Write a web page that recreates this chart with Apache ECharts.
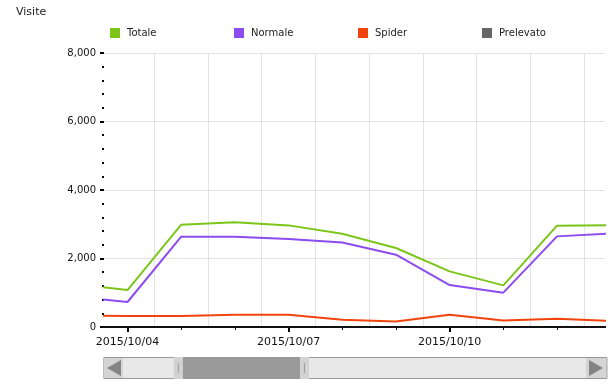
<!DOCTYPE html>
<html><head><meta charset="utf-8">
<script src="https://cdn.jsdelivr.net/npm/echarts@6/dist/echarts.min.js"></script>
<style>html,body{margin:0;padding:0;background:#fff}#c{width:614px;height:386px}</style>
</head><body><div id="c"></div>
<script>
// ---- data ----
const dates = ['2015/10/03','2015/10/04','2015/10/05','2015/10/06','2015/10/07','2015/10/08','2015/10/09','2015/10/10','2015/10/11','2015/10/12','2015/10/13'];
const totale = [1256, 1080, 2987, 3055, 2967, 2720, 2307, 1624, 1215, 2958, 2970];
const normale = [883, 730, 2637, 2637, 2570, 2470, 2111, 1226, 1002, 2646, 2733];
const spider = [342, 321, 321, 359, 359, 215, 164, 359, 193, 242, 177];
const prelevato = [0, 0, 0, 0, 0, 0, 0, 0, 0, 0, 0];
const labelDates = ['2015/10/04','2015/10/07','2015/10/10','2015/10/13'];
const seriesNames = ['Totale','Normale','Spider','Prelevato'];
const axisFull = ['2015/09/28 04:02','2015/11/03 21:50'];
const viewWindow = ['2015/10/03 13:29','2015/10/12 21:27'];

// ---- helpers ----
function t(s){ const m = s.match(/(\d+)\/(\d+)\/(\d+)(?: (\d+):(\d+))?/); return new Date(+m[1], +m[2]-1, +m[3], +(m[4]||0), +(m[5]||0)).getTime(); }
function fmt(v){ const d = new Date(v); const p = n => String(n).padStart(2,'0'); return d.getFullYear()+'/'+p(d.getMonth()+1)+'/'+p(d.getDate()); }
const DAY = 86400000;
const dayTicks = dates.map(t);
const gridTicks = dayTicks.map(v => v + DAY/2);
const labelTicks = labelDates.map(t);
const mk = arr => dates.map((d,i) => [t(d), arr[i]]);
const font = 'DejaVu Sans';
const colors = ['#7cc51a', '#8c4cf0', '#f0440c', '#666666'];

const chart = echarts.init(document.getElementById('c'), null, {renderer:'canvas'});
const option = {
  animation: false,
  title: {text:'Visite', left:16, top:7, padding:0, textStyle:{fontSize:11, fontWeight:'normal', color:'#222', fontFamily:font}},
  legend: seriesNames.map((n,i) => ({
    top:28, left:110 + i*124, itemWidth:10, itemHeight:10, itemGap:0, icon:'rect', padding:0,
    itemStyle:{borderWidth:0},
    textStyle:{fontSize:10, color:'#222', fontFamily:font, padding:[0,0,0,2]},
    data:[{name:n, itemStyle:{color:colors[i]}}]
  })),
  grid: {left:104, right:9, top:53, bottom:59, containLabel:false, outerBoundsMode:'none'},
  xAxis: [
    {type:'value', min:t(axisFull[0]), max:t(axisFull[1]), position:'bottom', scale:true,
     axisLine:{show:true, onZero:false, lineStyle:{color:'#000', width:2}},
     axisTick:{show:true, customValues:dayTicks, length:3, lineStyle:{color:'#000', width:1}},
     axisLabel:{customValues:labelTicks, formatter:v => fmt(v), margin:10, fontSize:11, color:'#111', fontFamily:font, hideOverlap:false, showMinLabel:true, showMaxLabel:true},
     splitLine:{show:false}},
    {type:'value', min:t(viewWindow[0]), max:t(viewWindow[1]), position:'bottom', scale:true,
     axisLine:{show:false}, axisTick:{show:false, customValues:gridTicks}, axisLabel:{show:false, customValues:gridTicks},
     splitLine:{show:true, lineStyle:{color:'#e2e2e2', width:1}}},
    {type:'value', min:t(viewWindow[0]), max:t(viewWindow[1]), position:'bottom', scale:true,
     axisLine:{show:false}, axisTick:{show:true, customValues:labelTicks, length:5, lineStyle:{color:'#000', width:2}},
     axisLabel:{show:false, customValues:labelTicks}, splitLine:{show:false}}
  ],
  yAxis: {type:'value', min:0, max:8000, interval:2000,
    axisLine:{show:false},
    axisTick:{show:true, length:4, lineStyle:{color:'#000', width:2}},
    minorTick:{show:true, splitNumber:5, length:2, lineStyle:{color:'#000', width:2}},
    axisLabel:{fontSize:10, color:'#111', fontFamily:font, margin:8},
    splitLine:{show:true, lineStyle:{color:'#e2e2e2', width:1}}},
  dataZoom: [{
    type:'slider', xAxisIndex:0, filterMode:'none',
    startValue:t(viewWindow[0]), endValue:t(viewWindow[1]),
    left:103, right:7, top:357, height:22,
    showDetail:false, showDataShadow:false, brushSelect:false, moveHandleSize:0,
    backgroundColor:'#e8e8e8', borderColor:'#9a9a9a', borderRadius:0,
    fillerColor:'#9a9a9a',
    handleIcon:'path://M0,0L9,0L9,22L0,22Z M4,6L4,16L5,16L5,6Z',
    handleSize:'100%',
    handleStyle:{color:'#d2d2d2', borderWidth:0},
    emphasis:{handleStyle:{color:'#d2d2d2', borderWidth:0}}
  }],
  graphic: [
    {type:'rect', left:104, top:358, z:100, shape:{width:19, height:20}, style:{fill:'#d4d4d4'}},
    {type:'polygon', z:101, shape:{points:[[107,368],[121,360],[121,376]]}, style:{fill:'#858585'}},
    {type:'rect', left:586, top:358, z:100, shape:{width:20, height:20}, style:{fill:'#d4d4d4'}},
    {type:'polygon', z:101, shape:{points:[[603,368],[589,360],[589,376]]}, style:{fill:'#858585'}}
  ],
  series: [
    {name:'Totale', type:'line', data:mk(totale), symbol:'none', lineStyle:{color:colors[0], width:2}, itemStyle:{color:colors[0]}, z:3},
    {name:'Normale', type:'line', data:mk(normale), symbol:'none', lineStyle:{color:colors[1], width:2}, itemStyle:{color:colors[1]}, z:3},
    {name:'Spider', type:'line', data:mk(spider), symbol:'none', lineStyle:{color:colors[2], width:2}, itemStyle:{color:colors[2]}, z:3},
    {name:'Prelevato', type:'line', data:mk(prelevato), symbol:'none', lineStyle:{color:'#111', width:2}, itemStyle:{color:colors[3]}, z:4}
  ]
};
chart.setOption(option);
</script></body></html>
